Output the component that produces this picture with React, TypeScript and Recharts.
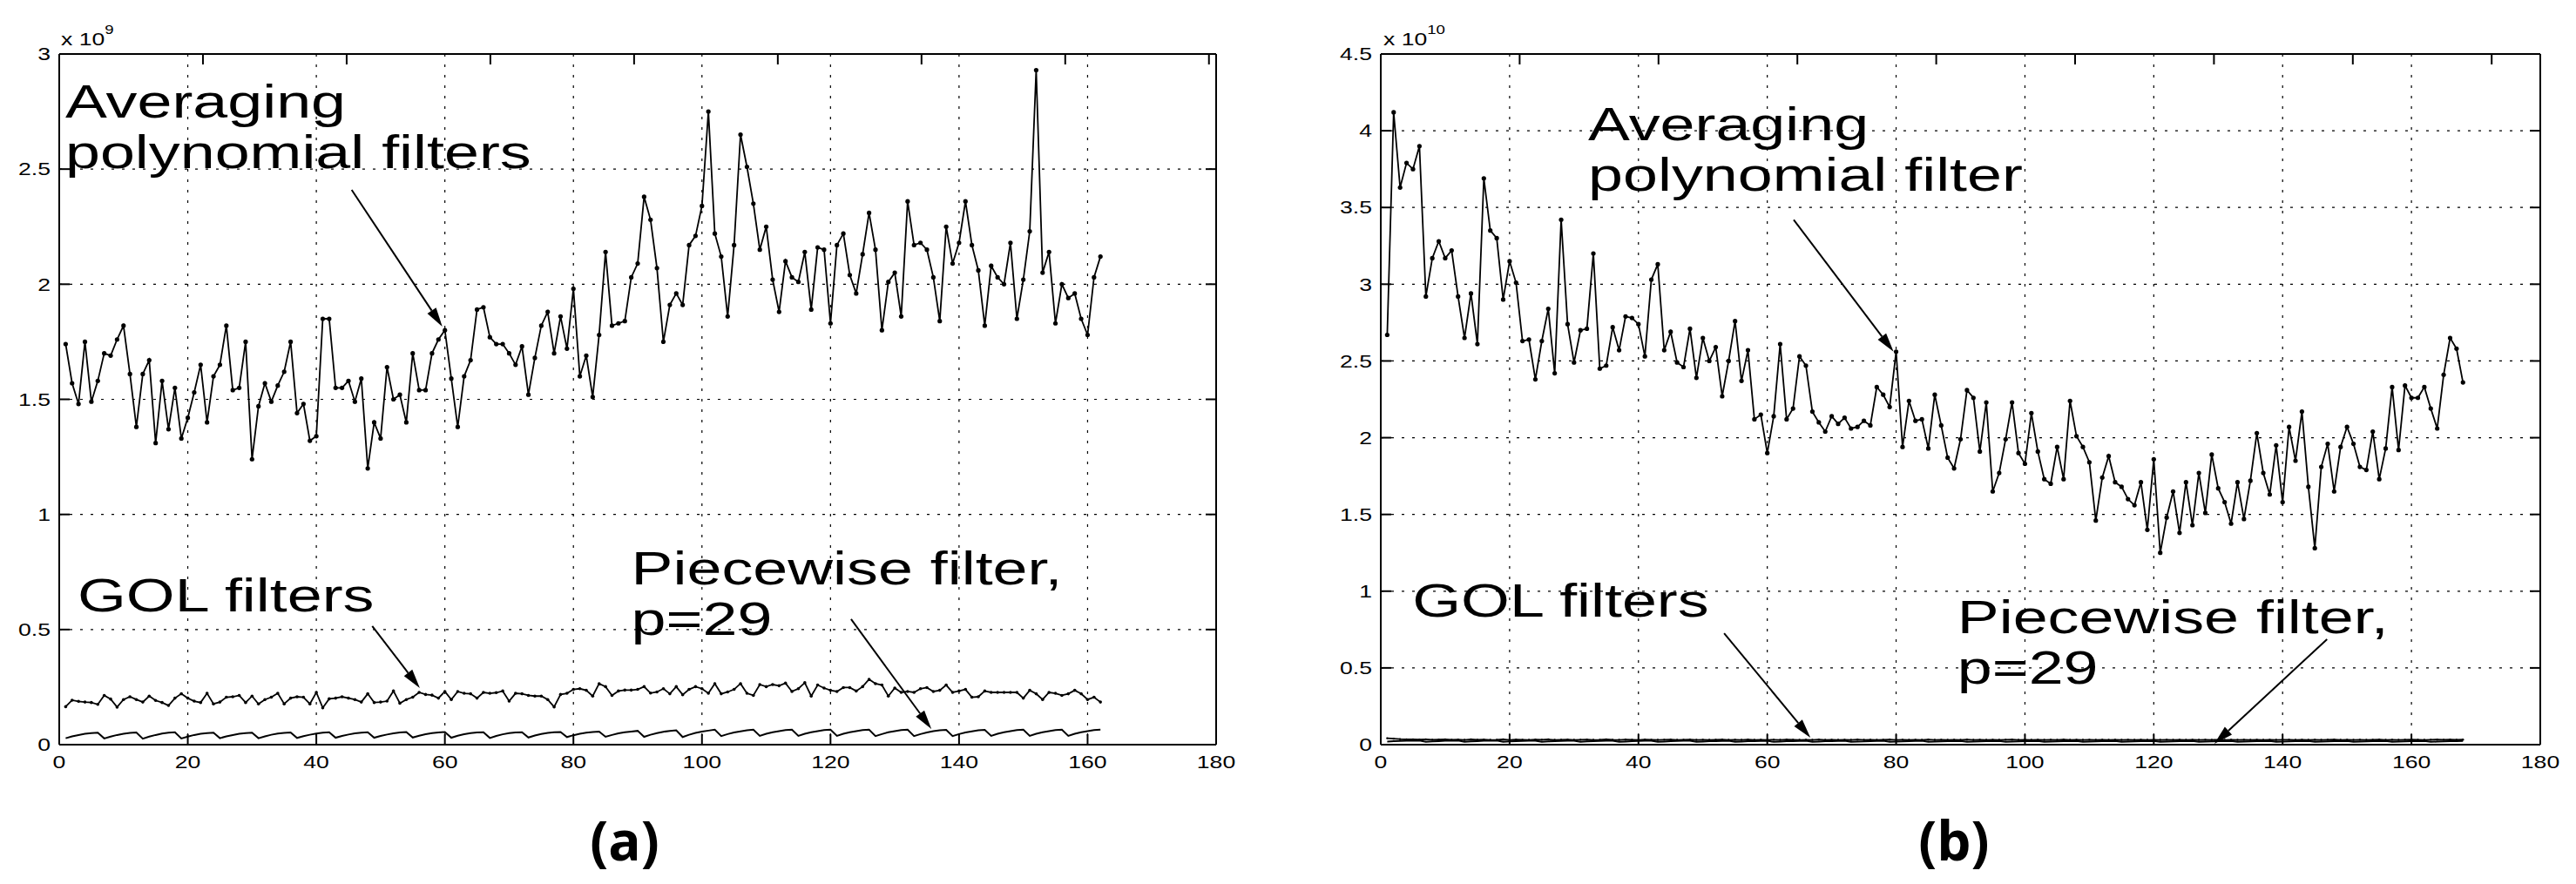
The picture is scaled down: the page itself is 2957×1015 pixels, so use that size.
import {
  LineChart,
  Line,
  XAxis,
  YAxis,
  CartesianGrid,
  ReferenceLine,
  ReferenceDot,
} from "recharts";

// horizontal stretch of all the text in the original figure
const SX = 1.33;
const FONT = "'Liberation Sans', Arial, Helvetica, sans-serif";

const xTicks = [0, 20, 40, 60, 80, 100, 120, 140, 160, 180];
const yTicksA = [0, 0.5, 1, 1.5, 2, 2.5, 3];
const yTicksB = [0, 0.5, 1, 1.5, 2, 2.5, 3, 3.5, 4, 4.5];

// (a) values, x 10^9
const avgA = [
  1.74, 1.57, 1.48, 1.75, 1.49, 1.58, 1.7, 1.69, 1.76, 1.82,
  1.61, 1.38, 1.61, 1.67, 1.31, 1.58, 1.37, 1.55, 1.33, 1.42,
  1.53, 1.65, 1.4, 1.6, 1.65, 1.82, 1.54, 1.55, 1.75, 1.24,
  1.47, 1.57, 1.49, 1.56, 1.62, 1.75, 1.44, 1.48, 1.32, 1.34,
  1.85, 1.85, 1.55, 1.55, 1.58, 1.49, 1.59, 1.2, 1.4, 1.33,
  1.64, 1.5, 1.52, 1.4, 1.7, 1.54, 1.54, 1.7, 1.76, 1.8,
  1.59, 1.38, 1.6, 1.67, 1.89, 1.9, 1.77, 1.74, 1.74, 1.7,
  1.65, 1.73, 1.52, 1.68, 1.82, 1.88, 1.7, 1.86, 1.72, 1.98,
  1.6, 1.69, 1.51, 1.78, 2.14, 1.82, 1.83, 1.84, 2.03, 2.09,
  2.38, 2.28, 2.07, 1.75, 1.91, 1.96, 1.91, 2.17, 2.21, 2.34,
  2.75, 2.22, 2.12, 1.86, 2.17, 2.65, 2.51, 2.35, 2.15, 2.25,
  2.02, 1.88, 2.1, 2.03, 2.01, 2.14, 1.89, 2.16, 2.15, 1.83,
  2.17, 2.22, 2.04, 1.96, 2.13, 2.31, 2.15, 1.8, 2.01, 2.05,
  1.86, 2.36, 2.17, 2.18, 2.15, 2.03, 1.84, 2.25, 2.09, 2.18,
  2.36, 2.17, 2.06, 1.82, 2.08, 2.03, 2.0, 2.18, 1.85, 2.02,
  2.23, 2.93, 2.05, 2.14, 1.83, 2.0, 1.94, 1.96, 1.85, 1.78,
  2.03, 2.12,
];

const golA = [
  0.165, 0.193, 0.188, 0.185, 0.183, 0.175, 0.214, 0.198, 0.163, 0.196,
  0.208, 0.196, 0.185, 0.211, 0.192, 0.183, 0.17, 0.202, 0.221, 0.202,
  0.189, 0.183, 0.223, 0.177, 0.185, 0.206, 0.208, 0.214, 0.183, 0.211,
  0.177, 0.196, 0.206, 0.223, 0.177, 0.202, 0.208, 0.206, 0.177, 0.227,
  0.16, 0.199, 0.202, 0.208, 0.202, 0.196, 0.185, 0.221, 0.183, 0.185,
  0.189, 0.233, 0.18, 0.196, 0.206, 0.227, 0.218, 0.215, 0.202, 0.231,
  0.196, 0.231, 0.223, 0.221, 0.202, 0.227,
  0.223, 0.226, 0.233, 0.189, 0.223, 0.221, 0.214, 0.211, 0.211, 0.196,
  0.164, 0.218, 0.223, 0.24, 0.243, 0.236, 0.211, 0.265, 0.252, 0.214,
  0.233, 0.237, 0.237, 0.24, 0.252, 0.224, 0.229, 0.243, 0.221, 0.252,
  0.217, 0.24, 0.252, 0.243, 0.223, 0.265, 0.221, 0.229, 0.24, 0.265,
  0.223, 0.214, 0.261, 0.252, 0.261, 0.256, 0.267, 0.231, 0.243, 0.269,
  0.211, 0.259, 0.246, 0.236, 0.231, 0.248, 0.248, 0.233, 0.252, 0.284,
  0.265, 0.259, 0.211, 0.246, 0.227,
  0.231, 0.227, 0.243, 0.248, 0.231, 0.236, 0.259, 0.227, 0.233, 0.24,
  0.206, 0.208, 0.233, 0.227, 0.227, 0.227, 0.227, 0.227, 0.202, 0.236,
  0.221, 0.196, 0.227, 0.223, 0.214, 0.221, 0.236, 0.221, 0.196, 0.206,
  0.185,
];

const pwA = [
  0.028, 0.036, 0.042, 0.047, 0.05, 0.052,
  0.027, 0.035, 0.042, 0.047, 0.051, 0.053,
  0.026, 0.035, 0.042, 0.048, 0.052, 0.054,
  0.027, 0.035, 0.042, 0.047, 0.05, 0.052,
  0.028, 0.036, 0.042, 0.047, 0.05, 0.052,
  0.028, 0.036, 0.043, 0.048, 0.051, 0.053,
  0.029, 0.037, 0.043, 0.048, 0.052, 0.054,
  0.03, 0.038, 0.044, 0.049, 0.052, 0.054,
  0.03, 0.038, 0.044, 0.049, 0.053, 0.055,
  0.031, 0.039, 0.045, 0.05, 0.053, 0.055,
  0.03, 0.039, 0.045, 0.05, 0.053, 0.054,
  0.029, 0.038, 0.045, 0.05, 0.053, 0.054,
  0.031, 0.04, 0.046, 0.051, 0.054, 0.055,
  0.033, 0.041, 0.047, 0.052, 0.055, 0.057,
  0.034, 0.042, 0.049, 0.054, 0.057, 0.06,
  0.034, 0.043, 0.05, 0.056, 0.06, 0.062,
  0.033, 0.043, 0.051, 0.057, 0.061, 0.065,
  0.037, 0.046, 0.053, 0.058, 0.062, 0.065,
  0.038, 0.047, 0.054, 0.059, 0.063, 0.065,
  0.038, 0.047, 0.054, 0.059, 0.063, 0.065,
  0.038, 0.047, 0.054, 0.059, 0.063, 0.065,
  0.037, 0.046, 0.054, 0.059, 0.063, 0.065,
  0.037, 0.046, 0.053, 0.059, 0.062, 0.064,
  0.037, 0.046, 0.053, 0.058, 0.062, 0.064,
  0.038, 0.047, 0.054, 0.059, 0.063, 0.065,
  0.038, 0.047, 0.054, 0.059, 0.063, 0.065,
  0.038, 0.047, 0.054, 0.059, 0.063, 0.065,
];

// (b) values, x 10^10
const avgB = [
  2.67, 4.12, 3.63, 3.79, 3.75, 3.9, 2.92, 3.17, 3.28, 3.17,
  3.22, 2.92, 2.65, 2.94, 2.61, 3.69, 3.35, 3.3, 2.9, 3.15,
  3.01, 2.63, 2.64, 2.38, 2.63, 2.84, 2.42, 3.42, 2.74, 2.49,
  2.7, 2.71, 3.2, 2.45, 2.47, 2.72, 2.57, 2.79, 2.78, 2.74,
  2.53, 3.03, 3.13, 2.57, 2.69, 2.49, 2.46, 2.71, 2.39, 2.65,
  2.5, 2.59, 2.27, 2.5, 2.76, 2.37, 2.57, 2.12, 2.15, 1.9,
  2.14, 2.61, 2.12, 2.19, 2.53, 2.47, 2.17, 2.1, 2.04, 2.14,
  2.09, 2.13, 2.06, 2.07, 2.11, 2.08, 2.33, 2.28, 2.2, 2.56,
  1.94, 2.24, 2.11, 2.12, 1.93, 2.28, 2.08, 1.87, 1.8, 1.99,
  2.31, 2.26, 1.91, 2.23, 1.65, 1.77, 1.99, 2.23, 1.9, 1.83,
  2.16, 1.91, 1.73, 1.7, 1.94, 1.73, 2.24, 2.01, 1.94, 1.84,
  1.46, 1.74, 1.88, 1.71, 1.68, 1.6, 1.56, 1.71, 1.4, 1.86,
  1.25, 1.48, 1.65, 1.38, 1.71, 1.43, 1.77, 1.51, 1.89, 1.67,
  1.58, 1.44, 1.71, 1.47, 1.72, 2.03, 1.77, 1.63, 1.95, 1.58,
  2.07, 1.85, 2.17, 1.68, 1.28, 1.81, 1.96, 1.65, 1.94, 2.07,
  1.96, 1.81, 1.79, 2.04, 1.73, 1.93, 2.33, 1.92, 2.34, 2.26,
  2.26, 2.33, 2.19, 2.06, 2.41, 2.65, 2.58, 2.36,
];

const golB = [
  0.042, 0.039, 0.036, 0.034, 0.035, 0.033, 0.034, 0.032, 0.033, 0.034,
  0.032, 0.033, 0.031, 0.034, 0.032, 0.033, 0.031, 0.032, 0.034, 0.031,
  0.033, 0.032, 0.031, 0.033, 0.032, 0.034, 0.031, 0.032, 0.033, 0.031,
  0.032, 0.033, 0.031, 0.032, 0.034, 0.032, 0.031, 0.033, 0.032, 0.031,
  0.033, 0.032, 0.031, 0.032, 0.033, 0.031, 0.032, 0.033, 0.031, 0.032,
  0.031, 0.032, 0.033, 0.031, 0.032, 0.031, 0.033, 0.031, 0.032, 0.031,
  0.032, 0.031, 0.033, 0.032, 0.031, 0.032, 0.031, 0.033, 0.031, 0.032,
  0.031, 0.032, 0.031, 0.033, 0.031, 0.032, 0.031, 0.032, 0.033, 0.031,
  0.032, 0.031, 0.032, 0.031, 0.033, 0.031, 0.032, 0.031, 0.032, 0.031,
  0.033, 0.031, 0.032, 0.031, 0.032, 0.031, 0.032, 0.033, 0.031, 0.032,
  0.031, 0.032, 0.031, 0.032, 0.031, 0.033, 0.031, 0.032, 0.031, 0.032,
  0.031, 0.032, 0.031, 0.032, 0.031, 0.032, 0.031, 0.032, 0.031, 0.032,
  0.031, 0.032, 0.031, 0.032, 0.031, 0.032, 0.031, 0.032, 0.031, 0.032,
  0.031, 0.032, 0.031, 0.032, 0.031, 0.032, 0.031, 0.032, 0.031, 0.032,
  0.032, 0.031, 0.032, 0.031, 0.032, 0.031, 0.032, 0.033, 0.031, 0.032,
  0.031, 0.032, 0.031, 0.032, 0.033, 0.031, 0.032, 0.031, 0.032, 0.033,
  0.032, 0.031, 0.032, 0.033, 0.032, 0.033, 0.032, 0.033,
];

const pwB = [
  0.02, 0.022, 0.024, 0.025, 0.026, 0.027,
  0.019, 0.021, 0.023, 0.025, 0.026, 0.027,
  0.019, 0.021, 0.023, 0.025, 0.026, 0.027,
  0.019, 0.021, 0.023, 0.024, 0.025, 0.026,
  0.019, 0.021, 0.023, 0.024, 0.025, 0.026,
  0.019, 0.021, 0.023, 0.024, 0.025, 0.026,
  0.018, 0.02, 0.022, 0.024, 0.025, 0.026,
  0.018, 0.02, 0.022, 0.024, 0.025, 0.026,
  0.018, 0.02, 0.022, 0.023, 0.024, 0.025,
  0.018, 0.02, 0.022, 0.023, 0.024, 0.025,
  0.018, 0.02, 0.022, 0.023, 0.024, 0.025,
  0.018, 0.02, 0.022, 0.023, 0.024, 0.025,
  0.018, 0.02, 0.021, 0.023, 0.024, 0.025,
  0.018, 0.02, 0.021, 0.023, 0.024, 0.025,
  0.018, 0.02, 0.021, 0.022, 0.023, 0.024,
  0.018, 0.02, 0.021, 0.022, 0.023, 0.024,
  0.018, 0.02, 0.021, 0.022, 0.023, 0.024,
  0.018, 0.02, 0.021, 0.022, 0.023, 0.024,
  0.018, 0.02, 0.021, 0.022, 0.023, 0.024,
  0.018, 0.02, 0.021, 0.022, 0.023, 0.024,
  0.018, 0.02, 0.021, 0.022, 0.023, 0.024,
  0.018, 0.02, 0.021, 0.022, 0.023, 0.024,
  0.018, 0.02, 0.021, 0.022, 0.023, 0.024,
  0.018, 0.02, 0.021, 0.022, 0.023, 0.024,
  0.018, 0.02, 0.021, 0.022, 0.023, 0.024,
  0.018, 0.02, 0.021, 0.022, 0.023, 0.024,
  0.018, 0.02, 0.021, 0.022, 0.023, 0.024,
  0.018, 0.02, 0.021, 0.022, 0.023, 0.024,
];

// annotation text, anchored at the left end of the first baseline
const notesA = [
  { x: 0.95, y: 2.724, lines: ["Averaging", "polynomial filters"] },
  { x: 2.85, y: 0.579, lines: ["GOL filters"] },
  { x: 89.0, y: 0.696, lines: ["Piecewise filter,", "p=29"] },
];
const notesB = [
  { x: 32.2, y: 3.94, lines: ["Averaging", "polynomial filter"] },
  { x: 4.9, y: 0.834, lines: ["GOL filters"] },
  { x: 89.5, y: 0.726, lines: ["Piecewise filter,", "p=29"] },
];

// arrows: tail -> tip
const arrowsA = [
  { x1: 45.5, y1: 2.41, x2: 59.6, y2: 1.816 },
  { x1: 48.7, y1: 0.515, x2: 56.1, y2: 0.246 },
  { x1: 123.2, y1: 0.545, x2: 135.7, y2: 0.068 },
];
const arrowsB = [
  { x1: 64.1, y1: 3.42, x2: 79.6, y2: 2.56 },
  { x1: 53.3, y1: 0.726, x2: 66.7, y2: 0.045 },
  { x1: 146.9, y1: 0.687, x2: 129.4, y2: 0.006 },
];

const toRows = (avg: number[], gol: number[], pw: number[]) =>
  avg.map((v, i) => ({ x: i + 1, avg: v, gol: gol[i], pw: pw[i] }));

const rowsA = toRows(avgA, golA, pwA);
const rowsB = toRows(avgB, golB, pwB);

const XTick = (p: any) => (
  <text
    transform={`translate(${p.x},${p.y}) scale(${SX},1)`}
    textAnchor="middle"
    dy="0.72em"
    fontSize={20}
    fontFamily={FONT}
    fill="#000"
  >
    {p.payload.value}
  </text>
);

const YTick = (p: any) => (
  <text
    transform={`translate(${p.x},${p.y}) scale(${SX},1)`}
    textAnchor="end"
    dy="0.36em"
    fontSize={20}
    fontFamily={FONT}
    fill="#000"
  >
    {p.payload.value}
  </text>
);

const NoTick = () => <g />;

const ArrowShape = (p: any) => {
  const { x1, y1, x2, y2 } = p;
  const a = Math.atan2(y2 - y1, x2 - x1);
  const L = 22;
  const W = 6;
  const bx = x2 - L * Math.cos(a);
  const by = y2 - L * Math.sin(a);
  const nx = -Math.sin(a) * W;
  const ny = Math.cos(a) * W;
  return (
    <g>
      <line x1={x1} y1={y1} x2={bx} y2={by} stroke="#000" strokeWidth={2} />
      <polygon
        points={`${x2},${y2} ${bx + nx},${by + ny} ${bx - nx},${by - ny}`}
        fill="#000"
      />
    </g>
  );
};

const noteShape = (lines: string[]) => (p: any) => (
  <text
    transform={`translate(${p.cx},${p.cy}) scale(${SX},1)`}
    fontSize={54}
    fontFamily={FONT}
    fill="#000"
  >
    {lines.map((t, i) => (
      <tspan key={i} x={0} dy={i === 0 ? 0 : 58}>
        {t}
      </tspan>
    ))}
  </text>
);

const axisStyle = { stroke: "#000", strokeWidth: 2 };

type PanelProps = {
  rows: Array<{ x: number; avg: number; gol: number; pw: number }>;
  yTicks: number[];
  yMax: number;
  width: number;
  plotLeft: number;
  plotRight: number;
  notes: typeof notesA;
  arrows: typeof arrowsA;
  golDot: number;
};

function Panel({ rows, yTicks, yMax, width, plotLeft, plotRight, notes, arrows, golDot }: PanelProps) {
  return (
    <LineChart
      width={width}
      height={1015}
      data={rows}
      margin={{ top: 52, right: width - plotRight - 10, bottom: 120, left: 0 }}
    >
      <CartesianGrid stroke="#000" strokeWidth={1.2} strokeDasharray="3 9" />
      <XAxis
        type="number"
        dataKey="x"
        domain={[0, 180]}
        ticks={xTicks}
        height={40}
        tickSize={-12}
        tickMargin={25}
        tick={<XTick />}
        axisLine={axisStyle}
        tickLine={axisStyle}
        allowDataOverflow
      />
      <XAxis
        xAxisId="top"
        orientation="top"
        type="number"
        domain={[0, 180]}
        ticks={xTicks}
        height={10}
        tickSize={-12}
        tick={<NoTick />}
        axisLine={axisStyle}
        tickLine={axisStyle}
        allowDataOverflow
      />
      <YAxis
        type="number"
        domain={[0, yMax]}
        ticks={yTicks}
        width={plotLeft}
        tickSize={-12}
        tickMargin={22}
        tick={<YTick />}
        axisLine={axisStyle}
        tickLine={axisStyle}
        allowDataOverflow
      />
      <YAxis
        yAxisId="right"
        orientation="right"
        type="number"
        domain={[0, yMax]}
        ticks={yTicks}
        width={10}
        tickSize={-12}
        tick={<NoTick />}
        axisLine={axisStyle}
        tickLine={axisStyle}
        allowDataOverflow
      />
      <Line
        type="linear"
        dataKey="pw"
        stroke="#000"
        strokeWidth={2}
        dot={false}
        isAnimationActive={false}
      />
      <Line
        type="linear"
        dataKey="gol"
        stroke="#000"
        strokeWidth={1.8}
        dot={golDot > 0 ? { r: golDot, fill: "#000", stroke: "#000", strokeWidth: 0 } : false}
        isAnimationActive={false}
      />
      <Line
        type="linear"
        dataKey="avg"
        stroke="#000"
        strokeWidth={1.8}
        dot={{ r: 2.6, fill: "#000", stroke: "#000", strokeWidth: 0 }}
        isAnimationActive={false}
      />
      {arrows.map((a, i) => (
        <ReferenceLine
          key={`arrow-${i}`}
          segment={[
            { x: a.x1, y: a.y1 },
            { x: a.x2, y: a.y2 },
          ]}
          ifOverflow="visible"
          shape={ArrowShape}
        />
      ))}
      {notes.map((n, i) => (
        <ReferenceDot
          key={`note-${i}`}
          x={n.x}
          y={n.y}
          r={1}
          ifOverflow="visible"
          shape={noteShape(n.lines)}
        />
      ))}
    </LineChart>
  );
}

export default function App() {
  return (
    <div
      style={{
        position: "absolute",
        left: 0,
        top: 0,
        width: 2957,
        height: 1015,
        background: "#fff",
      }}
    >
      <div style={{ position: "absolute", left: 0, top: 0 }}>
        <Panel
          rows={rowsA}
          yTicks={yTicksA}
          yMax={3}
          width={1440}
          plotLeft={68}
          plotRight={1396}
          notes={notesA}
          arrows={arrowsA}
          golDot={1.8}
        />
      </div>
      <div style={{ position: "absolute", left: 1480, top: 0 }}>
        <Panel
          rows={rowsB}
          yTicks={yTicksB}
          yMax={4.5}
          width={1477}
          plotLeft={105}
          plotRight={1436}
          notes={notesB}
          arrows={arrowsB}
          golDot={1.2}
        />
      </div>
      <svg
        width={2957}
        height={1015}
        style={{ position: "absolute", left: 0, top: 0, pointerEvents: "none" }}
      >
        <g fontFamily={FONT} fill="#000">
          <text transform={`translate(70,52) scale(${SX},1)`} fontSize={20}>
            x 10
            <tspan fontSize={14} dy={-13}>9</tspan>
          </text>
          <text transform={`translate(1588,52) scale(${SX},1)`} fontSize={20}>
            x 10
            <tspan fontSize={14} dy={-13}>10</tspan>
          </text>
        </g>
        <g fontFamily="'Open Sans', 'DejaVu Sans', sans-serif" fontWeight={700} fill="#000">
          <text x={717} y={988} fontSize={62} textAnchor="middle">
            (a)
          </text>
          <text x={2243} y={988} fontSize={62} textAnchor="middle">
            (b)
          </text>
        </g>
      </svg>
    </div>
  );
}
